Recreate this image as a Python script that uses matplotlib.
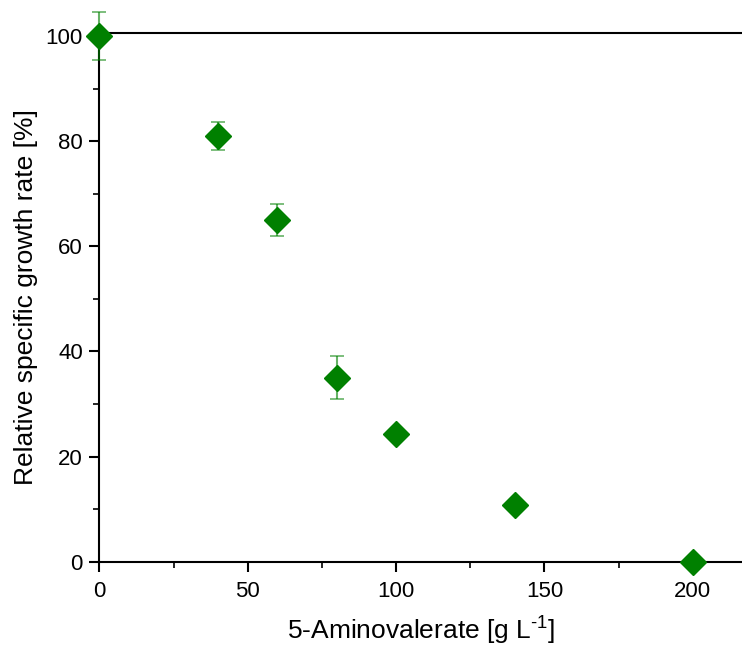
import numpy as np
import matplotlib.pyplot as plt
from matplotlib.ticker import MultipleLocator

plt.rcParams['font.family'] = ['Liberation Sans', 'DejaVu Sans']
plt.rcParams['mathtext.fontset'] = 'custom'
plt.rcParams['mathtext.rm'] = 'Liberation Sans'

# data
conc = [0, 40, 60, 80, 100, 140, 200]            # 5-aminovalerate [g/L]
rate = [100, 81, 65, 35, 24.3, 10.8, 0]           # relative growth rate [%]
err = [4.6, 2.7, 3.1, 4.1, 0, 0, 0]

fig = plt.figure(figsize=(7.42, 6.47), dpi=100)
ax = fig.add_axes([0.134, 0.132, 0.866, 0.817])

ax.errorbar(conc, rate, yerr=err, fmt='none', ecolor='#008000', alpha=0.6,
            elinewidth=1.5, capsize=5, capthick=1.2, clip_on=False, zorder=3)
ax.plot(conc, rate, 'D', color='#008000', markersize=13.5, clip_on=False, zorder=4)

ax.set_xlim(0, 216.6)
ax.set_ylim(0, 100.6)
ax.xaxis.set_major_locator(MultipleLocator(50))
ax.xaxis.set_minor_locator(MultipleLocator(25))
ax.yaxis.set_major_locator(MultipleLocator(20))
ax.yaxis.set_minor_locator(MultipleLocator(10))
ax.tick_params(which='major', direction='out', length=7, width=1.5, labelsize=16)
ax.tick_params(which='minor', direction='out', length=4, width=1.2)
ax.tick_params(axis='x', which='major', pad=7)
ax.tick_params(axis='y', which='major', pad=5)
for s in ['left', 'bottom', 'top']:
    ax.spines[s].set_linewidth(1.5)
ax.spines['right'].set_visible(False)

ax.set_xlabel('5-Aminovalerate [g L$^{\\text{-1}}$]', fontsize=19, labelpad=8)
ax.set_ylabel('Relative specific growth rate [%]', fontsize=19, labelpad=5.5)

fig.savefig('out.png', dpi=100)
